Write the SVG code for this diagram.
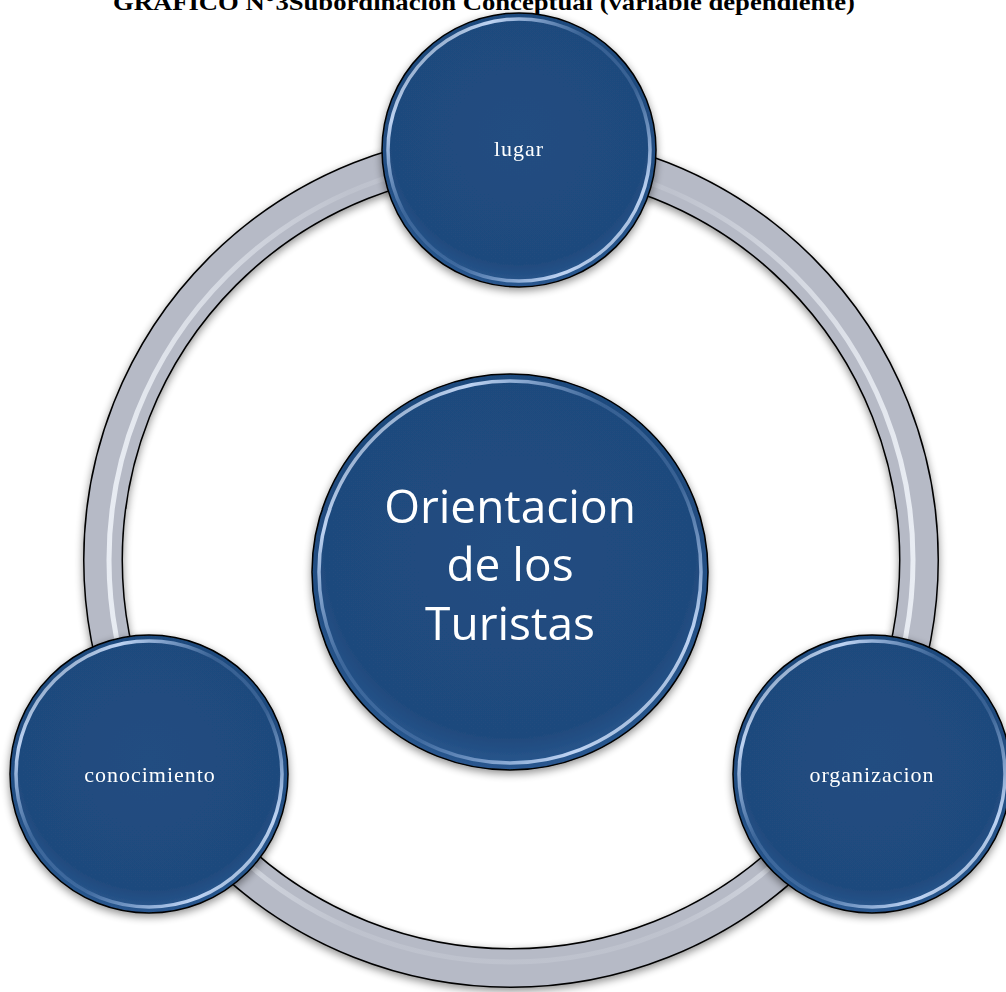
<svg xmlns="http://www.w3.org/2000/svg" width="1006" height="992" viewBox="0 0 1006 992">
<style>
.title{font-family:"Liberation Serif","Times New Roman",serif;font-weight:bold;font-size:24px;fill:#000}
.sat{font-family:"Liberation Serif","Times New Roman",serif;font-size:22px;letter-spacing:1px;fill:#ffffff;text-anchor:middle}
.main{font-family:"Open Sans","Liberation Sans",sans-serif;font-size:46px;fill:#ffffff;text-anchor:middle}
.disc{fill:url(#discFill);stroke:#000;stroke-width:1.5}
.rim{fill:none;stroke:url(#rimGrad);stroke-width:3.5}
</style>
<defs>
<radialGradient id="discFill" cx="50%" cy="45%" r="55%">
<stop offset="0" stop-color="#214d81"/>
<stop offset="0.85" stop-color="#1f4a7d"/>
<stop offset="1" stop-color="#2a5890"/>
</radialGradient>
<linearGradient id="rimGrad" x1="0" y1="0" x2="1" y2="1">
<stop offset="0" stop-color="#ffffff" stop-opacity="0"/>
<stop offset="0.2" stop-color="#cfe2ff" stop-opacity="0.9"/>
<stop offset="0.4" stop-color="#9ec0ef" stop-opacity="0.2"/>
<stop offset="0.6" stop-color="#9ec0ef" stop-opacity="0.2"/>
<stop offset="0.82" stop-color="#cfe2ff" stop-opacity="0.9"/>
<stop offset="1" stop-color="#ffffff" stop-opacity="0"/>
</linearGradient>
<linearGradient id="ringHi" x1="0" y1="0" x2="1" y2="0">
<stop offset="0" stop-color="#eef2f8" stop-opacity="0.9"/>
<stop offset="0.3" stop-color="#eef2f8" stop-opacity="0.15"/>
<stop offset="0.7" stop-color="#eef2f8" stop-opacity="0.15"/>
<stop offset="1" stop-color="#eef2f8" stop-opacity="0.9"/>
</linearGradient>
<filter id="shadow" x="-20%" y="-20%" width="140%" height="140%">
<feGaussianBlur in="SourceAlpha" stdDeviation="4"/>
<feOffset dx="0" dy="3" result="b"/>
<feComponentTransfer><feFuncA type="linear" slope="0.45"/></feComponentTransfer>
<feMerge><feMergeNode/><feMergeNode in="SourceGraphic"/></feMerge>
</filter>
</defs>
<rect width="1006" height="992" fill="#ffffff"/>
<text class="title" x="113" y="10" textLength="742" lengthAdjust="spacingAndGlyphs">GRAFICO N°3Subordinación Conceptual (variable dependiente)</text>
<g id="connectors">
<circle cx="511" cy="560" r="408" fill="none" stroke="#000" stroke-width="40" filter="url(#shadow)"/>
<circle cx="511" cy="560" r="408" fill="none" stroke="#b6bac6" stroke-width="37"/>
<circle cx="511" cy="560" r="402" fill="none" stroke="url(#ringHi)" stroke-width="5"/>
</g>
<g id="node-lugar" filter="url(#shadow)">
<circle class="disc" cx="519" cy="150" r="137"/>
<circle class="rim" cx="519" cy="150" r="131"/>
<text class="sat" x="519" y="156">lugar</text>
</g>
<g id="node-conocimiento" filter="url(#shadow)">
<circle class="disc" cx="149" cy="774" r="139"/>
<circle class="rim" cx="149" cy="774" r="133"/>
<text class="sat" x="150" y="782">conocimiento</text>
</g>
<g id="node-organizacion" filter="url(#shadow)">
<circle class="disc" cx="872" cy="774" r="139"/>
<circle class="rim" cx="872" cy="774" r="133"/>
<text class="sat" x="872" y="782">organizacion</text>
</g>
<g id="node-orientacion" filter="url(#shadow)">
<circle class="disc" cx="510" cy="572" r="198"/>
<circle class="rim" cx="510" cy="572" r="191"/>
<text class="main" x="510" y="523">Orientacion</text>
<text class="main" x="510" y="581">de los</text>
<text class="main" x="510" y="640">Turistas</text>
</g>
</svg>
